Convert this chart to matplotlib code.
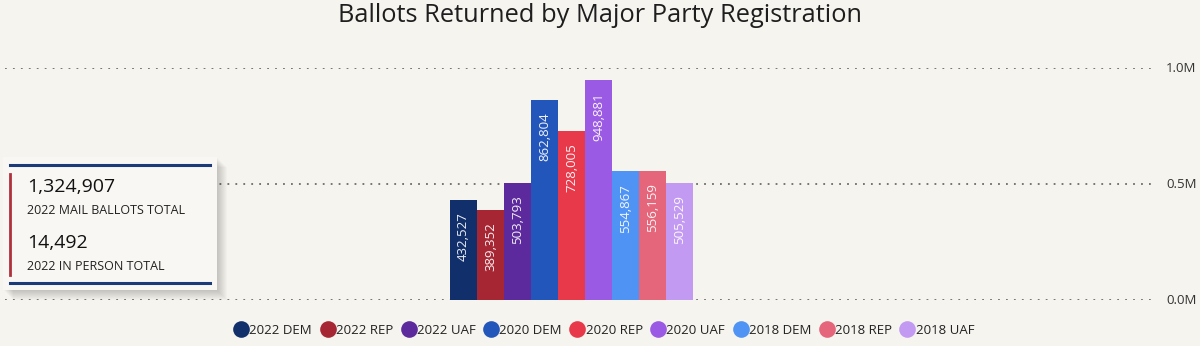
import matplotlib.pyplot as plt
import matplotlib.patches as patches
from matplotlib.lines import Line2D

# data
categories = ["2022 DEM", "2022 REP", "2022 UAF", "2020 DEM", "2020 REP",
              "2020 UAF", "2018 DEM", "2018 REP", "2018 UAF"]
ballots = [432527, 389352, 503793, 862804, 728005, 948881, 554867, 556159, 505529]
colors = ["#11306b", "#a72633", "#5c2a9d", "#2356bb", "#e8394a",
          "#9a5ae4", "#4f93f5", "#e5667a", "#c39af2"]
y_ticks = [0, 500000, 1000000]
y_tick_labels = ["0.0M", "0.5M", "1.0M"]
kpi_values = ["1,324,907", "14,492"]
kpi_labels = ["2022 MAIL BALLOTS TOTAL", "2022 IN PERSON TOTAL"]

BG = "#f6f4ef"
W, H = 1200, 346
plt.rcParams["font.family"] = ["Open Sans", "DejaVu Sans"]

fig = plt.figure(figsize=(W / 100, H / 100), dpi=100, facecolor=BG)


def fx(px):
    return px / W


def fy(py):
    return 1 - py / H


# main axes: grid from x=5 to 1155, y=0 at 300px, 1.0M at 68px
ax = fig.add_axes([fx(5), fy(300), fx(1150), (300 - 68) / H])
ax.set_facecolor("none")
unit = 27.0
x = list(range(len(ballots)))
left_units = (450 - 5) / unit
ax.set_xlim(-0.5 - left_units, -0.5 - left_units + 1150 / unit)
ax.set_ylim(0, 1000000)
ax.bar(x, ballots, width=1.0, color=colors, edgecolor="none", zorder=3)

for xi, v in zip(x, ballots):
    ax.annotate(f"{v:,}", (xi, v), xytext=(0, -9), textcoords="offset points",
                rotation=90, ha="center", va="top", color="white",
                alpha=0.92, fontsize=9.5, zorder=4)

for t in y_ticks:
    ax.axhline(t, color="#6b6b6b", lw=1.3, ls=(0, (1, 3.4)), zorder=1)
ax.set_yticks([])
ax.set_xticks([])
for s in ax.spines.values():
    s.set_visible(False)
for t, lab in zip(y_ticks, y_tick_labels):
    ax.text(1.0095, t, lab, transform=ax.get_yaxis_transform(),
            ha="left", va="center", fontsize=9.5, color="#333333")

fig.text(0.5, fy(16), "Ballots Returned by Major Party Registration",
         ha="center", va="center", fontsize=18.3, color="#1e1e1e")

# KPI card with soft shadow
bx0, by0, bw, bh = 3, 157, 214, 133
for i in range(10):
    off = 1 + i
    sh = patches.Rectangle((fx(bx0 + off), fy(by0 + bh + off)),
                           fx(bw), bh / H, transform=fig.transFigure,
                           facecolor="black", alpha=0.02, edgecolor="none")
    fig.patches.append(sh)
card = patches.Rectangle((fx(bx0), fy(by0 + bh)), fx(bw), bh / H,
                         transform=fig.transFigure, facecolor="#f8f7f3",
                         edgecolor="none")
fig.patches.append(card)
fig.add_artist(Line2D([fx(10), fx(210)], [fy(165), fy(165)], color="#1b3a7a", lw=2.2))
fig.add_artist(Line2D([fx(10), fx(210)], [fy(283), fy(283)], color="#1b3a7a", lw=2.2))
fig.add_artist(Line2D([fx(10), fx(10)], [fy(174), fy(275)], color="#b0303c", lw=2))

fig.text(fx(27), fy(187), kpi_values[0], fontsize=14, va="center", color="#111111")
fig.text(fx(27), fy(210), kpi_labels[0], fontsize=9, va="center", color="#222222")
fig.text(fx(27), fy(243), kpi_values[1], fontsize=14, va="center", color="#111111")
fig.text(fx(27), fy(266), kpi_labels[1], fontsize=9, va="center", color="#222222")

# legend
handles = [Line2D([], [], marker="o", ls="none", markersize=12,
                  markerfacecolor=c, markeredgecolor="none") for c in colors]
fig.legend(handles, categories, loc="center", bbox_to_anchor=(0.503, fy(330)),
           ncol=len(categories), frameon=False, fontsize=9.5, handletextpad=0.0,
           columnspacing=0.55, handlelength=1.25, labelcolor="#222222")

fig.savefig("out.png", dpi=100, facecolor=BG)
